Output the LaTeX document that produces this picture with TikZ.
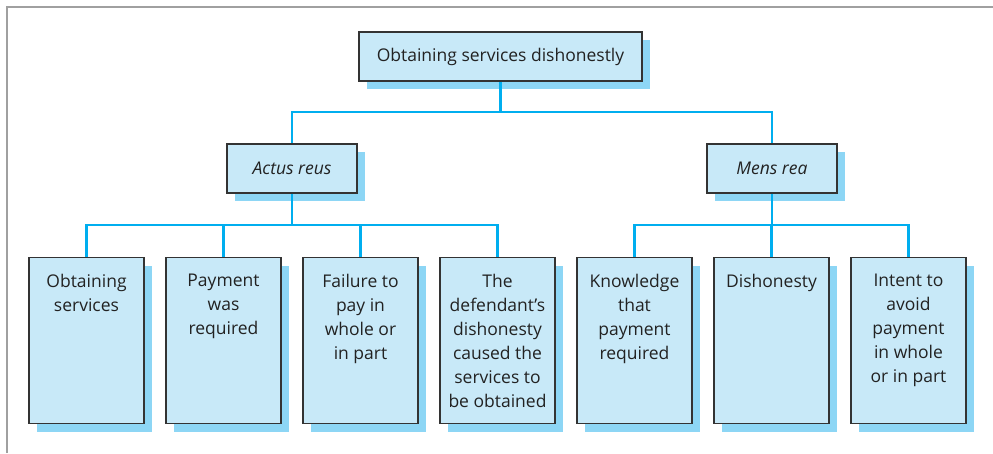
\documentclass[tikz,border=0pt]{standalone}
\usepackage{fontspec}
\setmainfont{Open Sans}
\usetikzlibrary{shadows}
\definecolor{boxfill}{HTML}{C8E9F8}
\definecolor{shadowblue}{HTML}{8DD6F5}
\definecolor{connblue}{HTML}{00AEEF}
\definecolor{boxline}{HTML}{333333}
\definecolor{framegray}{HTML}{A0A0A0}
\definecolor{textcol}{HTML}{222222}
\newcommand{\leaftext}[1]{\parbox[c][166pt][t]{113pt}{\centering\vspace*{16.5pt}#1\par}}
\begin{document}
\begin{tikzpicture}[x=1pt,y=-1pt,
  font=\fontsize{17.5}{24}\selectfont,
  boxstyle/.style={draw=boxline, line width=1.2pt, fill=boxfill, inner sep=0pt, text=textcol,
    general shadow={fill=shadowblue, shadow xshift=8pt, shadow yshift=-8pt}},
  headbox/.style={boxstyle, minimum height=49pt},
  leafbox/.style={boxstyle, minimum width=115pt, minimum height=166pt, anchor=north},
  conn/.style={draw=connblue, line width=2.4pt}]
\useasboundingbox (0,0) rectangle (993,453);
\draw[framegray, line width=2pt] (7,453) -- (7,7) -- (993,7);
\node[headbox, minimum width=283pt] (top) at (500.5,56.5) {Obtaining services dishonestly};
\node[headbox, minimum width=130pt] (ar) at (292,168.5) {\itshape Actus reus};
\node[headbox, minimum width=130pt] (mr) at (772,168.5) {\itshape Mens rea};
\coordinate (bus1) at (500.5,112);
\coordinate (bus2) at (292,225);
\coordinate (bus3) at (772,225);
\node[leafbox] (l1) at (86.5,257) {\leaftext{Obtaining\\services}};
\node[leafbox] (l2) at (223.5,257) {\leaftext{Payment\\was\\required}};
\node[leafbox] (l3) at (360.5,257) {\leaftext{Failure to\\pay in\\whole or\\in part}};
\node[leafbox] (l4) at (497.5,257) {\leaftext{The\\defendant’s\\dishonesty\\caused the\\services to\\be obtained}};
\node[leafbox] (l5) at (634.5,257) {\leaftext{Knowledge\\that\\payment\\required}};
\node[leafbox] (l6) at (771.5,257) {\leaftext{Dishonesty}};
\node[leafbox] (l7) at (908.5,257) {\leaftext{Intent to\\avoid\\payment\\in whole\\or in part}};
\draw[conn] (top.south) -- (bus1);
\draw[conn] (bus1) -| (ar.north);
\draw[conn] (bus1) -| (mr.north);
\draw[conn] (ar.south) -- (bus2);
\foreach \n in {l1,l2,l3,l4} \draw[conn] (bus2) -| (\n.north);
\draw[conn] (mr.south) -- (bus3);
\foreach \n in {l5,l6,l7} \draw[conn] (bus3) -| (\n.north);
\end{tikzpicture}
\end{document}
